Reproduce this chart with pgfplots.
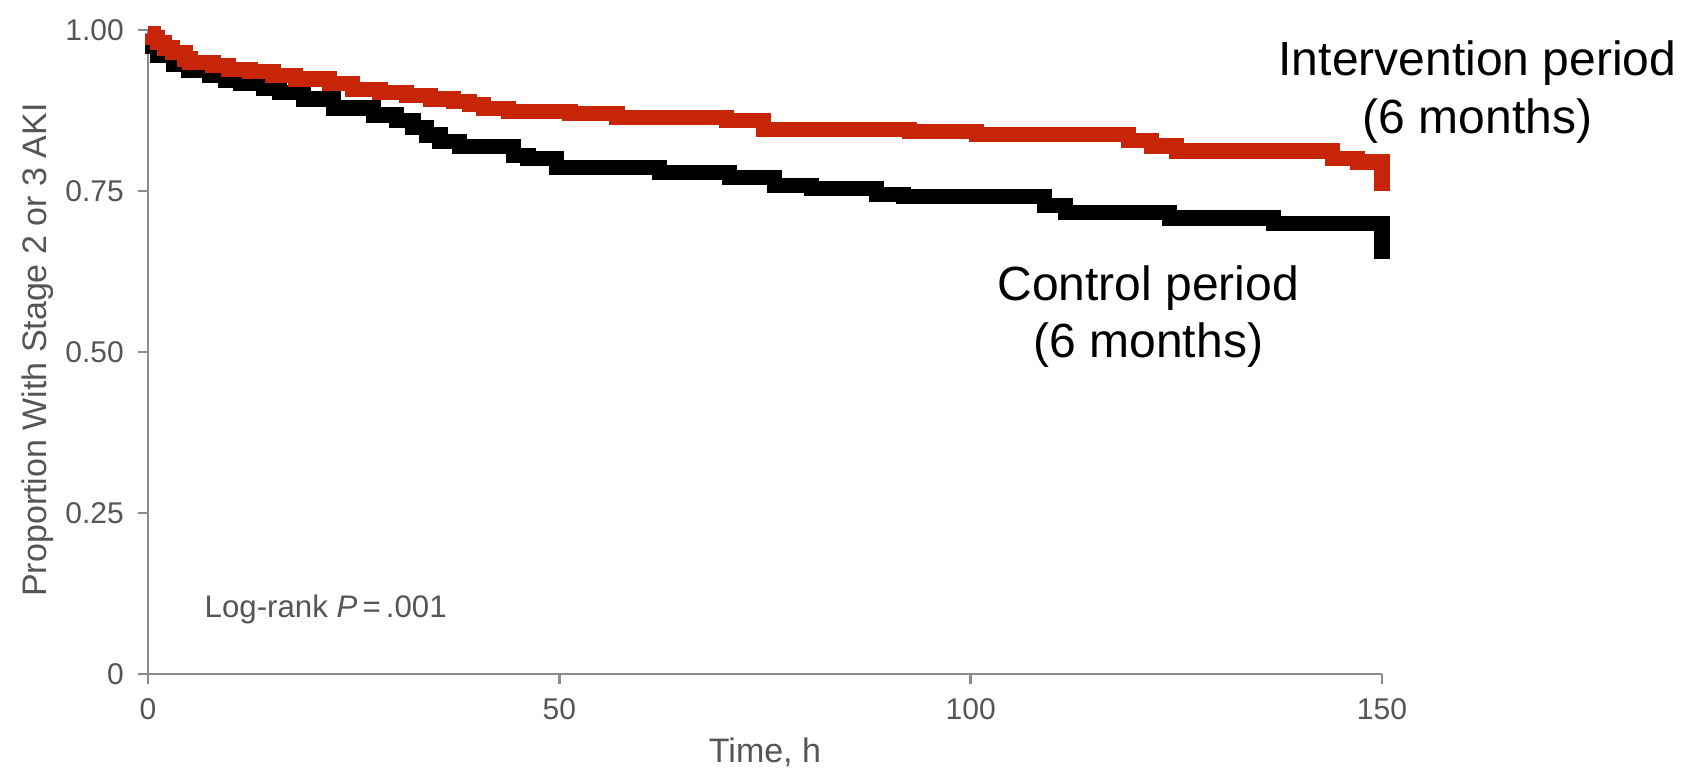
\documentclass[border=0pt]{standalone}
\usepackage{pgfplots}
\pgfplotsset{compat=1.18}
\usepackage{fontspec}
\setmainfont{Liberation Sans}
\definecolor{kmred}{RGB}{200,37,8}
\definecolor{axgray}{RGB}{140,140,140}
\definecolor{txtgray}{RGB}{85,85,85}

\begin{document}
\begin{tikzpicture}
\useasboundingbox (0,0) rectangle (420.5pt,192.75pt);
\begin{axis}[
    at={(37pt,24.25pt)}, anchor=south west,
    scale only axis,
    width=308.5pt, height=161pt,
    xmin=0, xmax=150, ymin=0, ymax=1,
    axis x line*=bottom, axis y line*=left,
    axis line style={axgray, line width=0.6pt, -},
    xtick={0,50,100,150}, xticklabels={0,50,100,150},
    ytick={0,0.25,0.5,0.75,1}, yticklabels={0,0.25,0.50,0.75,1.00},
    tick style={axgray, line width=0.6pt},
    tick align=outside, major tick length=2.5pt,
    ticklabel style={font=\fontsize{7.5}{9}\selectfont, text=txtgray},
    /pgf/number format/assume math mode=true,
    clip=false,
]
% control period
\addplot[const plot, black, line width=3.8pt, line join=miter] coordinates {
    (0,0.99) (0.6,0.975) (1.2,0.961) (3.1,0.947) (4.9,0.937) (7.5,0.929)
    (9.4,0.922) (11.2,0.917) (14,0.91) (16,0.903) (18.9,0.893) (22.5,0.879)
    (27.4,0.868) (30.2,0.86) (32.2,0.848) (33.9,0.837) (35.5,0.827) (37.9,0.819)
    (44.4,0.805) (46.2,0.80) (49.7,0.787) (62.2,0.779) (70.7,0.771) (76.2,0.759)
    (80.7,0.754) (88.6,0.745) (91.8,0.742) (109,0.728) (111.5,0.717)
    (124.2,0.708) (136.8,0.70) (150,0.645)
};
% intervention period
\addplot[const plot, kmred, line width=3.8pt, line join=miter] coordinates {
    (0,0.995) (0.6,0.988) (1.2,0.98) (2,0.972) (3,0.965) (4.5,0.955) (5.1,0.949)
    (7.9,0.945) (9.8,0.939) (12.4,0.935) (15.2,0.929) (17.9,0.924) (22.1,0.917)
    (24.9,0.908) (28.2,0.903) (31.4,0.898) (34.3,0.893) (37.1,0.889) (39.1,0.884)
    (40.8,0.878) (43.8,0.874) (51.3,0.870) (57,0.864) (70.3,0.859) (74.8,0.845)
    (92.6,0.842) (100.7,0.838) (119.2,0.829) (122,0.82) (125,0.812) (144,0.801)
    (147,0.795) (150,0.75)
};
\node[anchor=base west, inner sep=0, font=\fontsize{7.8}{9}\selectfont, text=txtgray]
    at (axis cs:6.8,0.0885) {Log-rank \textit{P}\,=\,.001};
\node[anchor=base, inner sep=0, font=\fontsize{12}{14}\selectfont] at (axis cs:161.6,0.930) {Intervention period};
\node[anchor=base, inner sep=0, font=\fontsize{12}{14}\selectfont] at (axis cs:161.6,0.840) {(6 months)};
\node[anchor=base, inner sep=0, font=\fontsize{12}{14}\selectfont] at (axis cs:121.6,0.5807) {Control period};
\node[anchor=base, inner sep=0, font=\fontsize{12}{14}\selectfont] at (axis cs:121.6,0.4907) {(6 months)};
\node[rotate=90, inner sep=0, font=\fontsize{8.5}{10}\selectfont, text=txtgray]
    at (rel axis cs:-0.0895,0.503) {Proportion With Stage 2 or 3 AKI};
\node[anchor=base, inner sep=0, font=\fontsize{8.5}{10}\selectfont, text=txtgray]
    at (rel axis cs:0.5,-0.138) {Time, h};
\end{axis}
\end{tikzpicture}
\end{document}
